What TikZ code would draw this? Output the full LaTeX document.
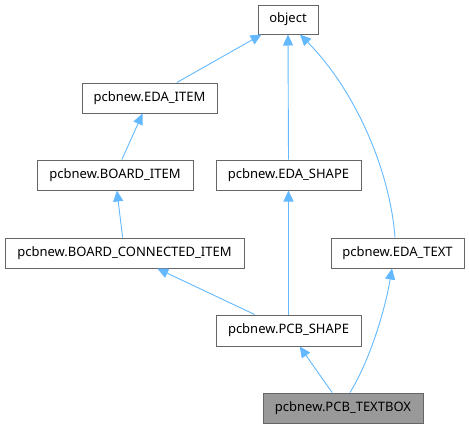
\documentclass[tikz,border=0pt]{standalone}
\usepackage{fontspec}
\setmainfont{Noto Sans}
\usetikzlibrary{arrows.meta}
\definecolor{edgeblue}{HTML}{63B8FF}
\definecolor{boxline}{HTML}{666666}
\definecolor{boxfill}{HTML}{999999}
\tikzset{
  cls/.style={draw=boxline, line width=1pt, fill=white, inner sep=0pt, minimum height=30pt, font=\fontsize{13}{15}\selectfont, text=black},
  inh/.style={draw=edgeblue, line width=0.9pt, -{Triangle[length=11pt,width=10pt]}, shorten >=0pt}
}
\begin{document}
\begin{tikzpicture}[x=1pt,y=-1pt]
\useasboundingbox (0,0) rectangle (469,429);
\node[cls, minimum width=60pt, minimum height=29pt] (obj) at (288,19.5) {object};
\node[cls, minimum width=135pt] (edaitem) at (149.5,98) {pcbnew.EDA\_ITEM};
\node[cls, minimum width=156pt] (boarditem) at (115,175) {pcbnew.BOARD\_ITEM};
\node[cls, minimum width=145pt] (edashape) at (288.5,175) {pcbnew.EDA\_SHAPE};
\node[cls, minimum width=239pt] (bci) at (124.5,253) {pcbnew.BOARD\_CONNECTED\_ITEM};
\node[cls, minimum width=133pt] (edatext) at (397.5,253) {pcbnew.EDA\_TEXT};
\node[cls, minimum width=145pt, minimum height=31pt] (pcbshape) at (288.5,330.5) {pcbnew.PCB\_SHAPE};
\node[cls, fill=boxfill, minimum width=160pt] (textbox) at (343,408) {pcbnew.PCB\_TEXTBOX};

\draw[inh] (edaitem) -- (obj);
\draw[inh] (boarditem) -- (edaitem);
\draw[inh] (edashape.north) -- (obj.south);
\draw[inh] ([xshift=-2.5pt]edatext.north) .. controls (390,170) and (355,90) .. ([xshift=12pt]obj.south);
\draw[inh] (bci) -- (boarditem);
\draw[inh] (pcbshape) -- (bci);
\draw[inh] (pcbshape.north) -- (edashape.south);
\draw[inh] (textbox) -- (pcbshape);
\draw[inh] ([xshift=7pt]textbox.north) .. controls (370,360) and (385,310) .. ([xshift=-5.5pt]edatext.south);
\end{tikzpicture}
\end{document}
